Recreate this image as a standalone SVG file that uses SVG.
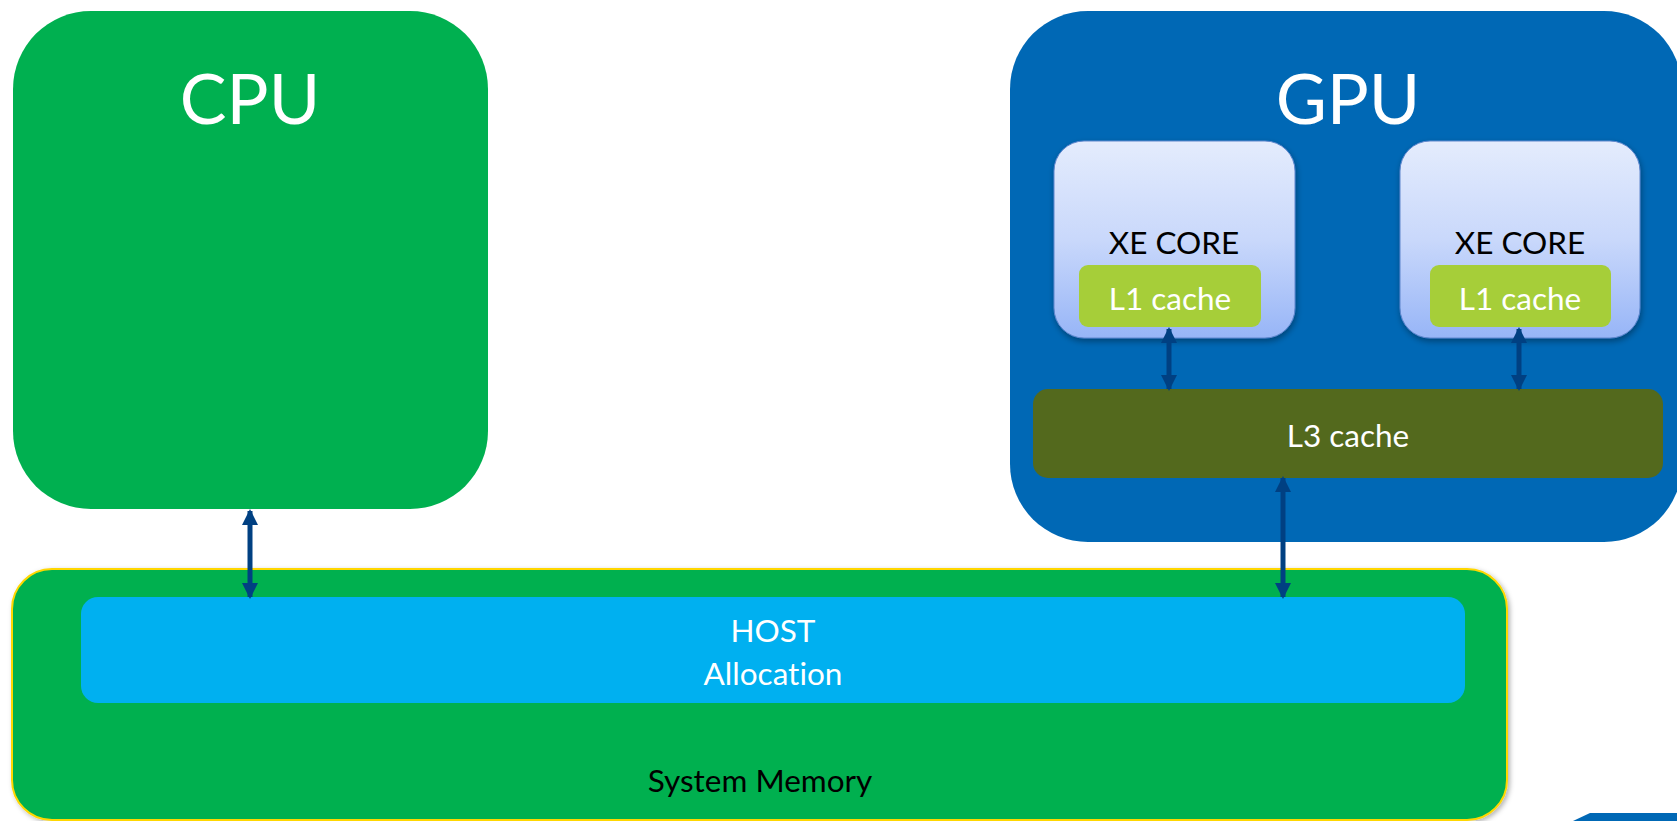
<svg xmlns="http://www.w3.org/2000/svg" width="1677" height="821" viewBox="0 0 1677 821">
  <defs>
    <style>
      .t { font-family: Lato, "Open Sans", "Liberation Sans", sans-serif; text-anchor: middle; font-variant-ligatures: none; font-feature-settings: "liga" 0, "dlig" 0; }
      .big { font-size: 70px; fill: #ffffff; }
      .mid { font-size: 31.5px; }
      .w { fill: #ffffff; }
      .k { fill: #000000; }
      .conn { stroke: #004082; stroke-width: 5; fill: none; marker-start: url(#ah); marker-end: url(#ah); }
    </style>
    <linearGradient id="xeGrad" x1="0" y1="0" x2="0" y2="1">
      <stop offset="0" stop-color="#e4ecfd"/>
      <stop offset="0.5" stop-color="#c9d8fb"/>
      <stop offset="1" stop-color="#97b5f7"/>
    </linearGradient>
    <filter id="shadow" x="-5%" y="-5%" width="115%" height="120%">
      <feDropShadow dx="1" dy="3" stdDeviation="3" flood-color="#000000" flood-opacity="0.35"/>
    </filter>
    <filter id="shadowSoft" x="-2%" y="-5%" width="105%" height="115%">
      <feDropShadow dx="2" dy="2" stdDeviation="2.5" flood-color="#000000" flood-opacity="0.3"/>
    </filter>
    <marker id="ah" viewBox="0 0 16 16" refX="14" refY="8" markerWidth="16" markerHeight="16" markerUnits="userSpaceOnUse" orient="auto-start-reverse">
      <path d="M0,0 L16,8 L0,16 Z" fill="#004082"/>
    </marker>
  </defs>

  <g id="cpu">
    <rect x="13" y="11" width="475" height="498" rx="78" ry="78" fill="#00b050"/>
    <text class="t big" x="250" y="124">CPU</text>
  </g>

  <g id="gpu">
    <rect x="1010" y="11" width="672" height="531" rx="78" ry="78" fill="#0068b5"/>
    <text class="t big" x="1348" y="124">GPU</text>
  </g>

  <g id="xe-core-1">
    <rect x="1054" y="141" width="241" height="197" rx="30" ry="30" fill="url(#xeGrad)" stroke="#5f86cc" stroke-width="1" filter="url(#shadow)"/>
    <text class="t mid k" x="1174" y="254">XE CORE</text>
  </g>
  <g id="l1-cache-1">
    <rect x="1079" y="265" width="182" height="62" rx="9" ry="9" fill="#a6ce39"/>
    <text class="t mid w" x="1170" y="310">L1 cache</text>
  </g>

  <g id="xe-core-2">
    <rect x="1400" y="141" width="240" height="197" rx="30" ry="30" fill="url(#xeGrad)" stroke="#5f86cc" stroke-width="1" filter="url(#shadow)"/>
    <text class="t mid k" x="1520" y="254">XE CORE</text>
  </g>
  <g id="l1-cache-2">
    <rect x="1430" y="265" width="181" height="62" rx="9" ry="9" fill="#a6ce39"/>
    <text class="t mid w" x="1520" y="310">L1 cache</text>
  </g>

  <g id="l3-cache">
    <rect x="1033" y="389" width="630" height="89" rx="15" ry="15" fill="#53691d"/>
    <text class="t mid w" x="1348" y="447">L3 cache</text>
  </g>

  <g id="system-memory">
    <rect x="12" y="569" width="1495" height="251" rx="40" ry="40" fill="#00b050" stroke="#ffd700" stroke-width="2" filter="url(#shadowSoft)"/>
    <text class="t mid k" x="760" y="792">System Memory</text>
  </g>

  <g id="host-allocation">
    <rect x="81" y="597" width="1384" height="106" rx="17" ry="17" fill="#00b0f0"/>
    <text class="t mid w" x="773" y="642">HOST</text>
    <text class="t mid w" x="773" y="685">Allocation</text>
  </g>

  <g id="corner-shape">
    <polygon points="1573,821 1590,813 1677,813 1677,821" fill="#0068b5"/>
  </g>

  <g id="connectors">
    <line class="conn" x1="250" y1="511" x2="250" y2="597"/>
    <line class="conn" x1="1169" y1="329" x2="1169" y2="389"/>
    <line class="conn" x1="1519" y1="329" x2="1519" y2="389"/>
    <line class="conn" x1="1283" y1="478" x2="1283" y2="597"/>
  </g>
</svg>
